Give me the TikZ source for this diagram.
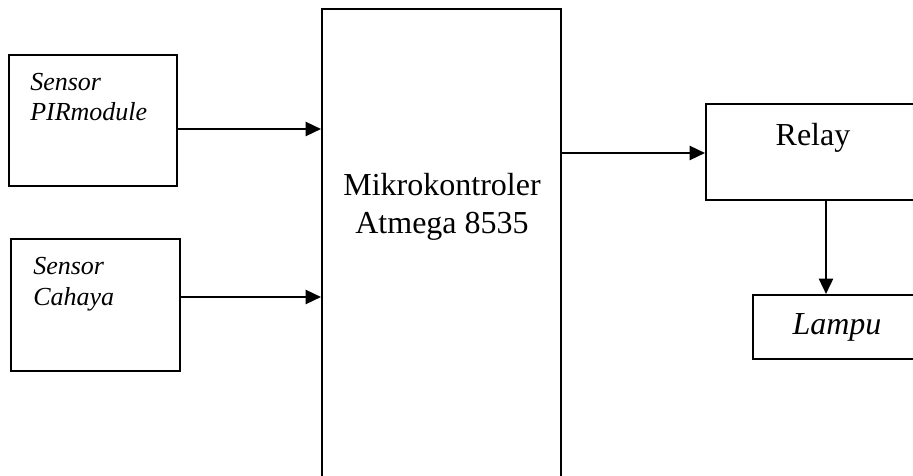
\documentclass[tikz,border=0pt]{standalone}
\usepackage{fontspec}
\setmainfont{Liberation Serif}
\usetikzlibrary{arrows.meta}
\begin{document}
\begin{tikzpicture}[x=0.75pt,y=-0.75pt,
    blok/.style={draw, line width=1.5pt, inner sep=0pt},
    panah/.style={line width=1.8pt, -{Triangle[length=11.5pt,width=10.5pt]}},
    besar/.style={font=\fontsize{24}{28.5}\selectfont, align=center, inner sep=0pt},
    kecil/.style={font=\fontsize{19.5}{23}\selectfont\itshape, align=left, inner sep=0pt}]
        \useasboundingbox (0,0) rectangle (913,475);
        \clip (0,0) rectangle (913,475);
        % blok diagram
        \node[blok, minimum width=126pt, minimum height=98.25pt] (pir) at (93,120.5) {};
        \node[blok, minimum width=126.75pt, minimum height=99pt] (cahaya) at (95.5,305) {};
        \node[blok, minimum width=179.25pt, minimum height=367.5pt] (mcu) at (441.5,254) {};
        \node[blok, minimum width=160.5pt, minimum height=72pt] (relay) at (813,152) {};
        \node[blok, minimum width=126pt, minimum height=48pt, font=\fontsize{24}{28.5}\selectfont\itshape] (lampu) at (837,327) {Lampu};
        % teks
        \node[kecil, anchor=west] (pirteks) at (30,97) {Sensor\\PIRmodule};
        \node[kecil, anchor=west] (cahayateks) at (33,284) {Sensor\\Cahaya};
        \node[besar] (mcuteks) at (442,207) {Mikrokontroler\\Atmega 8535};
        \node[besar] (relayteks) at (813,137.5) {Relay};
        % panah
        \draw[panah] (pir.east |- 0,129) -- (mcu.west |- 0,129);
        \draw[panah] (cahaya.east |- 0,297) -- (mcu.west |- 0,297);
        \draw[panah] (mcu.east |- 0,153) -- (relay.west |- 0,153);
        \draw[panah] (relay.south -| 826,0) -- (lampu.north -| 826,0);
\end{tikzpicture}
\end{document}
